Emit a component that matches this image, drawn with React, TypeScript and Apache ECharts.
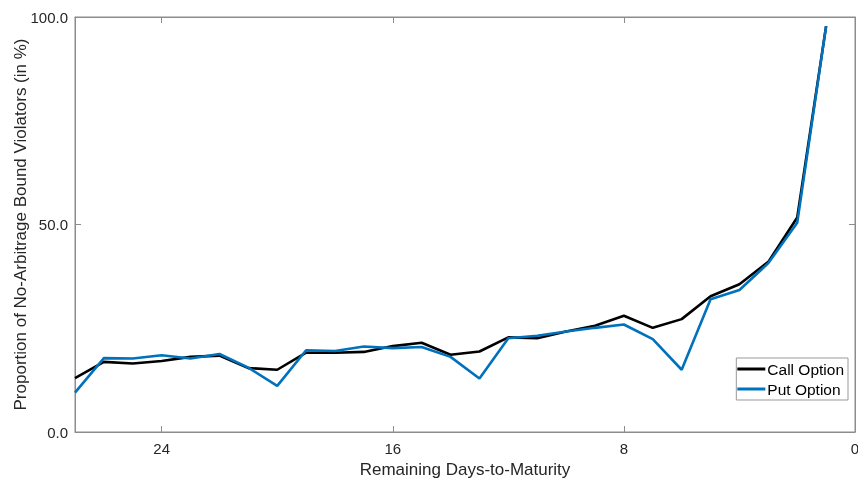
import React, { useEffect, useRef } from "react";
import * as echarts from "echarts";

const days = [27, 26, 25, 24, 23, 22, 21, 20, 19, 18, 17, 16, 15, 14, 13, 12, 11, 10, 9, 8, 7, 6, 5, 4, 3, 2, 1];
const callValues = [13.0, 16.9, 16.5, 17.1, 18.1, 18.4, 15.4, 15.0, 19.1, 19.1, 19.3, 20.7, 21.5, 18.6, 19.4, 22.8, 22.6, 24.2, 25.6, 28.0, 25.1, 27.2, 32.7, 35.6, 41.0, 51.7, 97.8];
const putValues = [9.5, 17.8, 17.7, 18.5, 17.7, 18.8, 15.5, 11.1, 19.7, 19.5, 20.6, 20.2, 20.5, 18.1, 12.9, 22.6, 23.2, 24.2, 25.1, 25.9, 22.4, 15.0, 32.0, 34.2, 40.7, 50.4, 97.8];
const seriesNames = ["Call Option", "Put Option"];
const xTicks = [0, 8, 16, 24];
const yTicks = [0, 50, 100];

const FONT = "Liberation Sans, Arial, Helvetica, sans-serif";
const TXT = "#262626";
const AX = "#8c8c8c";

export default function App() {
  const ref = useRef<HTMLDivElement>(null);
  useEffect(() => {
    if (!ref.current) return;
    const chart = echarts.init(ref.current, null, { renderer: "svg" });
    const commonX = {
      type: "value" as const,
      min: 0,
      max: 27,
      interval: 8,
      inverse: true,
      splitLine: { show: false },
      axisLine: { show: true, onZero: false, lineStyle: { color: AX, width: 1 } },
      axisTick: { show: true, inside: true, length: 6, lineStyle: { color: AX } },
    };
    const commonY = {
      type: "value" as const,
      min: 0,
      max: 100,
      interval: 50,
      splitLine: { show: false },
      axisLine: { show: true, onZero: false, lineStyle: { color: AX, width: 1 } },
      axisTick: { show: true, inside: true, length: 6, lineStyle: { color: AX } },
    };
    chart.setOption({
      animation: false,
      textStyle: { fontFamily: FONT },
      grid: {
        left: 75,
        right: 3,
        top: 17,
        bottom: 46,
        containLabel: false,
        outerBoundsMode: "none",
        show: true,
        borderColor: AX,
        borderWidth: 1,
        backgroundColor: "transparent",
      },
      legend: {
        data: seriesNames,
        orient: "vertical",
        right: 10,
        top: 358,
        itemWidth: 28,
        itemHeight: 3,
        itemGap: 4,
        icon: "rect",
        padding: [3, 4, 3, 1],
        backgroundColor: "#ffffff",
        borderColor: "#999999",
        borderWidth: 1,
        borderRadius: 0,
        textStyle: { fontFamily: FONT, fontSize: 15.5, color: "#000", padding: [0, 0, 0, -3] },
      },
      xAxis: [
        {
          ...commonX,
          position: "bottom",
          name: "Remaining Days-to-Maturity",
          nameLocation: "middle",
          nameGap: 29,
          nameMoveOverlap: false,
          nameTextStyle: { fontFamily: FONT, fontSize: 17, color: TXT },
          axisLabel: {
            fontFamily: FONT,
            fontSize: 15,
            color: TXT,
            margin: 9,
            formatter: (v: number) => (xTicks.includes(v) ? String(v) : ""),
            showMaxLabel: false,
          },
        },
        {
          ...commonX,
          position: "top",
          axisLabel: { show: false },
        },
      ],
      yAxis: [
        {
          ...commonY,
          position: "left",
          name: "Proportion of No-Arbitrage Bound Violators (in %)",
          nameLocation: "middle",
          nameGap: 46,
          nameMoveOverlap: false,
          nameTextStyle: { fontFamily: FONT, fontSize: 17, color: TXT },
          axisLabel: {
            fontFamily: FONT,
            fontSize: 15,
            color: TXT,
            margin: 7,
            formatter: (v: number) => (yTicks.includes(v) ? v.toFixed(1) : ""),
          },
        },
        {
          ...commonY,
          position: "right",
          axisLabel: { show: false },
        },
      ],
      series: [
        {
          name: seriesNames[0],
          type: "line",
          data: days.map((d, i) => [d, callValues[i]]),
          showSymbol: false,
          symbol: "none",
          lineStyle: { color: "#000000", width: 2.6 },
          itemStyle: { color: "#000000" },
          z: 2,
        },
        {
          name: seriesNames[1],
          type: "line",
          data: days.map((d, i) => [d, putValues[i]]),
          showSymbol: false,
          symbol: "none",
          lineStyle: { color: "#0072BD", width: 2.6 },
          itemStyle: { color: "#0072BD" },
          z: 3,
        },
        {
          type: "line",
          xAxisIndex: 1,
          yAxisIndex: 1,
          data: [],
          silent: true,
        },
      ],
    });
    return () => chart.dispose();
  }, []);
  return <div ref={ref} style={{ position: "fixed", left: 0, top: 0, width: 858, height: 478 }} />;
}
